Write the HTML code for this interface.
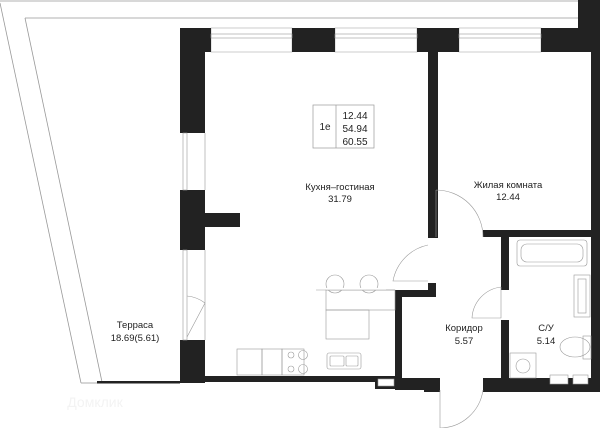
<!DOCTYPE html>
<html><head><meta charset="utf-8"><style>
html,body{margin:0;padding:0;background:#fff;width:600px;height:428px;overflow:hidden}
svg{display:block}
text{font-family:"Liberation Sans",sans-serif;font-size:9.5px;fill:#222;text-anchor:middle}
</style></head><body>
<svg width="600" height="428" viewBox="0 0 600 428" xmlns="http://www.w3.org/2000/svg">
<g fill="none" stroke="#999" stroke-width="0.8">
<line x1="0" y1="1" x2="578" y2="1"/>
<line x1="25" y1="18" x2="578" y2="18"/>
<line x1="0" y1="3" x2="81" y2="383"/>
<line x1="25" y1="18" x2="102" y2="382"/>
<line x1="81" y1="383" x2="97" y2="383"/>
</g>
<rect x="97" y="381" width="83" height="2.5" fill="#222"/>
<g fill="none" stroke="#aaa" stroke-width="0.6">
<rect x="211" y="28" width="81" height="24"/>
<rect x="335" y="28" width="82" height="24"/>
<rect x="459" y="28" width="82" height="24"/>
</g>
<g fill="#222">
<rect x="578" y="0" width="22" height="28"/>
<rect x="180" y="28" width="31" height="24"/>
<rect x="292" y="28" width="43" height="24"/>
<rect x="417" y="28" width="42" height="24"/>
<rect x="541" y="28" width="59" height="24"/>
<rect x="180" y="28" width="25" height="105"/>
<rect x="180" y="190" width="25" height="60"/>
<rect x="205" y="213" width="35" height="14"/>
<rect x="180" y="340" width="25" height="43"/>
<rect x="180" y="376" width="222" height="6"/>
<rect x="375" y="376" width="8" height="13"/>
<rect x="375" y="382" width="27" height="7"/>
<rect x="395" y="290" width="7" height="100"/>
<rect x="591" y="28" width="9" height="364"/>
<rect x="428" y="52" width="10" height="186"/>
<rect x="428" y="230" width="8" height="8"/>
<rect x="428" y="283" width="8" height="14"/>
<rect x="395" y="290" width="41" height="7"/>
<rect x="483" y="230" width="117" height="7"/>
<rect x="501" y="237" width="8" height="53"/>
<rect x="501" y="320" width="8" height="60"/>
<rect x="400" y="378" width="40" height="12"/>
<rect x="424" y="378" width="16" height="14"/>
<rect x="483" y="378" width="117" height="14"/>
</g>
<g fill="#fff" stroke="#999" stroke-width="0.6">
<rect x="550" y="375" width="18" height="9"/>
<rect x="573" y="375" width="15" height="9"/>
<rect x="378" y="379" width="16" height="7"/>
</g>
<g fill="none" stroke="#999" stroke-width="0.6">
<rect x="211" y="34" width="81" height="4"/>
<rect x="335" y="34" width="82" height="4"/>
<rect x="459" y="34" width="82" height="4"/>
<rect x="183" y="133" width="4" height="57"/>
<rect x="183" y="250" width="4" height="90"/>
<line x1="205" y1="133" x2="205" y2="190"/>
<line x1="205" y1="250" x2="205" y2="340"/>
<path d="M205 303 L187 337 M187 296 A35 35 0 0 1 205 303"/>
<path d="M436 190 A47 47 0 0 1 483 237 M436 190 L436 237"/>
<path d="M428 245 A45 45 0 0 0 393 281 L428 281"/>
<path d="M501 287 A33 33 0 0 0 472 318 L501 318 L501 287"/>
<path d="M440 390 L440 428 A44 44 0 0 0 483 390"/>
<rect x="237" y="349" width="25" height="26"/>
<rect x="262" y="349" width="20" height="26"/>
<rect x="282" y="349" width="22" height="26"/>
<circle cx="291" cy="355" r="3"/><circle cx="303" cy="355" r="4.5"/>
<circle cx="291" cy="369" r="3"/><circle cx="303" cy="369" r="4.5"/>
<rect x="327" y="353" width="34" height="16" rx="2"/>
<rect x="330" y="356" width="14" height="10" rx="1"/>
<rect x="346" y="356" width="12" height="10" rx="1"/>
<rect x="326" y="290" width="69" height="20"/>
<rect x="326" y="310" width="43" height="29"/>
<circle cx="335" cy="284" r="9"/><circle cx="369" cy="284" r="9"/>
<rect x="326" y="288" width="60" height="2" fill="#fff" stroke="none"/>
<line x1="316" y1="290" x2="395" y2="290"/>
<rect x="517" y="240" width="70" height="26" rx="3"/>
<rect x="521" y="244" width="62" height="18" rx="6"/>
<rect x="574" y="275" width="16" height="42"/>
<rect x="578" y="279" width="8" height="34"/>
<ellipse cx="575" cy="347" rx="15" ry="10"/>
<rect x="583" y="336" width="8" height="23"/>
<rect x="510" y="353" width="26" height="25"/>
<circle cx="523" cy="366" r="7"/>
</g>
<rect x="313" y="105" width="61" height="43" fill="none" stroke="#999" stroke-width="0.7"/>
<line x1="336" y1="105" x2="336" y2="148" stroke="#999" stroke-width="0.7"/>
<text x="325" y="130" style="font-size:10px">1e</text>
<text x="355" y="119" style="font-size:10px">12.44</text>
<text x="355" y="132" style="font-size:10px">54.94</text>
<text x="355" y="145" style="font-size:10px">60.55</text>
<text x="340" y="190">Кухня–гостиная</text>
<text x="340" y="202">31.79</text>
<text x="508" y="188">Жилая комната</text>
<text x="508" y="200">12.44</text>
<text x="464" y="331">Коридор</text>
<text x="464" y="344">5.57</text>
<text x="546" y="331">С/У</text>
<text x="546" y="344">5.14</text>
<text x="135" y="328">Терраса</text>
<text x="135" y="341">18.69(5.61)</text>
<text x="95" y="407" style="fill:#f3f3f3;font-size:14px">Домклик</text>
</svg>
</body></html>
